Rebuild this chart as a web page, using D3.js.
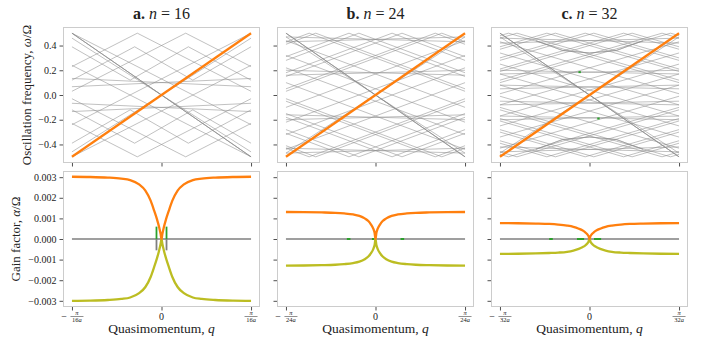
<!DOCTYPE html>
<html>
<head>
<meta charset="utf-8">
<script src="https://cdn.jsdelivr.net/npm/d3@7"></script>
<style>
body { margin: 0; background: #fff; }
text { font-family: "Liberation Serif", "DejaVu Serif", serif; fill: #222; }
</style>
</head>
<body>
<svg width="710" height="338"></svg>
<script>
// panels
var letters = ["a", "b", "c"];
var sizes = [16, 24, 32];

// tick values (q in units of pi/(n a))
var qTicks = [-1, 0, 1];
var freqTicks = [-0.4, -0.2, 0, 0.2, 0.4];
var gainTicks = [-0.003, -0.002, -0.001, 0, 0.001, 0.002, 0.003];

// gain curves, sampled at gainQ (values in 1e-3 Omega)
var gainQ = [-1, -0.8, -0.6, -0.45, -0.35, -0.25, -0.18, -0.12, -0.08, -0.05, -0.025, -0.01, 0,
	0.01, 0.025, 0.05, 0.08, 0.12, 0.18, 0.25, 0.35, 0.45, 0.6, 0.8, 1];
var upA = [3.02, 3.01, 2.98, 2.93, 2.86, 2.65, 2.35, 1.85, 1.35, 0.95, 0.55, 0.25, 0,
	0.25, 0.55, 0.95, 1.35, 1.85, 2.35, 2.65, 2.86, 2.93, 2.98, 3.01, 3.02];
var lowA = [-3.0, -2.99, -2.96, -2.91, -2.84, -2.63, -2.33, -1.83, -1.33, -0.93, -0.53, -0.24, 0,
	-0.24, -0.53, -0.93, -1.33, -1.83, -2.33, -2.63, -2.84, -2.91, -2.96, -2.99, -3.0];
var upB = [1.31, 1.305, 1.29, 1.27, 1.24, 1.19, 1.12, 1.0, 0.87, 0.7, 0.5, 0.3, 0,
	0.3, 0.5, 0.7, 0.87, 1.0, 1.12, 1.19, 1.24, 1.27, 1.29, 1.305, 1.31];
var lowB = [-1.29, -1.285, -1.27, -1.25, -1.22, -1.17, -1.1, -0.98, -0.85, -0.69, -0.49, -0.29, 0,
	-0.29, -0.49, -0.69, -0.85, -0.98, -1.1, -1.17, -1.22, -1.25, -1.27, -1.285, -1.29];
var upC = [0.77, 0.765, 0.75, 0.73, 0.7, 0.65, 0.59, 0.5, 0.42, 0.33, 0.23, 0.13, 0,
	0.13, 0.23, 0.33, 0.42, 0.5, 0.59, 0.65, 0.7, 0.73, 0.75, 0.765, 0.77];
var lowC = [-0.72, -0.715, -0.7, -0.68, -0.66, -0.62, -0.56, -0.48, -0.4, -0.32, -0.22, -0.12, 0,
	-0.12, -0.22, -0.32, -0.4, -0.48, -0.56, -0.62, -0.66, -0.68, -0.7, -0.715, -0.72];

// spikes near q=0 (panel a): q, top (green), bottom (gray), in 1e-3
var spikeQ = [-0.056, 0.056];
var spikeTop = [0.6, 0.6];
var spikeBot = [-0.55, -0.55];

// short green pieces on the zero line: [q0, q1]
var greenDashB = [[-0.32, -0.28], [-0.04, -0.01], [0.28, 0.32]];
var greenDashC = [[-0.45, -0.41], [-0.14, -0.06], [0.05, 0.13]];

// green points in the frequency panel c
var greenDotC = [[-0.11, 0.185], [0.1, -0.19]];

// orange band (the driven one)
var orangeBand = [[-1, -0.5], [1, 0.5]];

// gray bands, each a list of [q, omega] vertices (one direction; mirrored copies added below)
var grayA = [
	[[-1, 0.23], [-0.27, 0.5], [1, 0.03]],
	[[-1, -0.24], [1, 0.5]],
	[[-1, -0.5], [1, 0.24]],
	[[-1, -0.03], [0.27, -0.5], [1, -0.23]],
	[[-1, 0.134], [1, 0.067]],
	[[-1, -0.067], [1, -0.134]],
	[[-1, 0.46], [1, -0.46]],
	[[-1, 0.39], [-0.35, 0.12], [0.3, 0.39], [1, 0.12]],
	[[-1, -0.39], [-0.35, -0.12], [0.3, -0.39], [1, -0.12]]
];
var grayB = [
	[[-1, -0.22], [1, 0.32]],
	[[-1, -0.10], [1, 0.44]],
	[[-1, 0.03], [0.741, 0.5], [1, 0.43]],
	[[-1, 0.15], [0.296, 0.5], [1, 0.31]],
	[[-1, 0.28], [-0.185, 0.5], [1, 0.18]],
	[[-1, 0.41], [-0.667, 0.5], [1, 0.05]],
	[[-1, -0.32], [1, 0.22]],
	[[-1, -0.44], [1, 0.10]],
	[[-1, -0.43], [-0.741, -0.5], [1, -0.03]],
	[[-1, -0.31], [-0.296, -0.5], [1, -0.15]],
	[[-1, -0.18], [0.185, -0.5], [1, -0.28]],
	[[-1, -0.05], [0.667, -0.5], [1, -0.41]],
	[[-1, 0.47], [1, 0.43]],
	[[-1, 0.2], [1, 0.16]],
	[[-1, -0.16], [1, -0.2]],
	[[-1, -0.43], [1, -0.47]],
	[[-1, 0.47], [1, -0.47]]
];
var grayC = [
	[[-1, -0.17], [1, 0.25]],
	[[-1, -0.08], [1, 0.34]],
	[[-1, 0.01], [1, 0.43]],
	[[-1, 0.10], [0.905, 0.5], [1, 0.48]],
	[[-1, 0.19], [0.476, 0.5], [1, 0.39]],
	[[-1, 0.28], [0.048, 0.5], [1, 0.30]],
	[[-1, 0.37], [-0.381, 0.5], [1, 0.21]],
	[[-1, 0.46], [-0.81, 0.5], [1, 0.12]],
	[[-1, -0.25], [1, 0.17]],
	[[-1, -0.34], [1, 0.08]],
	[[-1, -0.43], [1, -0.01]],
	[[-1, -0.48], [-0.905, -0.5], [1, -0.10]],
	[[-1, -0.39], [-0.476, -0.5], [1, -0.19]],
	[[-1, -0.30], [-0.048, -0.5], [1, -0.28]],
	[[-1, -0.21], [0.381, -0.5], [1, -0.37]],
	[[-1, -0.12], [0.81, -0.5], [1, -0.46]],
	[[-1, 0.46], [1, 0.42]],
	[[-1, 0.2], [1, 0.17]],
	[[-1, 0.08], [1, 0.05]],
	[[-1, -0.05], [1, -0.08]],
	[[-1, -0.17], [1, -0.2]],
	[[-1, -0.42], [1, -0.46]],
	[[-0.6, 0.44], [-0.3, 0.36], [0, 0.34], [0.3, 0.36], [0.6, 0.44]],
	[[-0.6, -0.44], [-0.3, -0.36], [0, -0.34], [0.3, -0.36], [0.6, -0.44]],
	[[-1, 0.47], [1, -0.47]]
];

// the darker anti-diagonal (several overlapping bands)
var antiDiag = [[-1, 0.5], [1, -0.5]];

var gains = [[upA, lowA], [upB, lowB], [upC, lowC]];
var grays = [grayA, grayB, grayC].map(function(set) {
	var all = [];
	set.forEach(function(b) {
		all.push(b);
		all.push(b.map(function(p) { return [-p[0], p[1]]; }));
	});
	all.push(antiDiag, antiDiag, antiDiag);
	return all;
});

var svg = d3.select("svg");
var panelW = 197, lefts = [63, 277, 491];
var topY = [27, 163], botY = [171, 307];

var fmt1 = d3.format(".1f"), fmt3 = d3.format(".3f");

lefts.forEach(function(left, i) {
	var x = d3.scaleLinear().domain([-1.1, 1.1]).range([left, left + panelW]);
	var yF = d3.scaleLinear().domain([-0.55, 0.55]).range([topY[1], topY[0]]);
	var yG = d3.scaleLinear().domain([-0.0033, 0.0033]).range([botY[1], botY[0]]);

	svg.append("clipPath").attr("id", "ct" + i).append("rect")
		.attr("x", left).attr("y", topY[0]).attr("width", panelW).attr("height", topY[1] - topY[0]);
	svg.append("clipPath").attr("id", "cb" + i).append("rect")
		.attr("x", left).attr("y", botY[0]).attr("width", panelW).attr("height", botY[1] - botY[0]);

	// top: frequencies
	var gt = svg.append("g").attr("clip-path", "url(#ct" + i + ")");
	var line = d3.line().x(function(d) { return x(d[0]); }).y(function(d) { return yF(d[1]); });
	gt.selectAll(".band").data(grays[i]).enter().append("path")
		.attr("d", line).attr("fill", "none")
		.attr("stroke", "#8c8c8c").attr("stroke-opacity", 0.6).attr("stroke-width", 0.9);
	gt.append("path").datum(orangeBand).attr("d", line).attr("fill", "none")
		.attr("stroke", "#ff7f0e").attr("stroke-width", 2.3);
	if (i == 2) {
		gt.selectAll(".dot").data(greenDotC).enter().append("rect")
			.attr("x", function(d) { return x(d[0]) - 1.2; })
			.attr("y", function(d) { return yF(d[1]) - 1; })
			.attr("width", 2.4).attr("height", 2).attr("fill", "#2ca02c");
	}

	// bottom: gain
	var gb = svg.append("g").attr("clip-path", "url(#cb" + i + ")");
	gb.append("line").attr("x1", x(-1)).attr("x2", x(1)).attr("y1", yG(0)).attr("y2", yG(0))
		.attr("stroke", "#7f7f7f").attr("stroke-width", 1.5);
	if (i == 0) {
		spikeQ.forEach(function(q, k) {
			gb.append("line").attr("x1", x(q)).attr("x2", x(q)).attr("y1", yG(0)).attr("y2", yG(spikeBot[k] / 1000))
				.attr("stroke", "#7f7f7f").attr("stroke-width", 1.8);
			gb.append("line").attr("x1", x(q)).attr("x2", x(q)).attr("y1", yG(0)).attr("y2", yG(spikeTop[k] / 1000))
				.attr("stroke", "#2ca02c").attr("stroke-width", 1.8);
		});
	}
	var dashes = i == 1 ? greenDashB : i == 2 ? greenDashC : [];
	dashes.forEach(function(d) {
		gb.append("line").attr("x1", x(d[0])).attr("x2", x(d[1])).attr("y1", yG(0)).attr("y2", yG(0))
			.attr("stroke", "#2ca02c").attr("stroke-width", 2);
	});
	var gline = d3.line().curve(d3.curveMonotoneX)
		.x(function(d, k) { return x(gainQ[k]); }).y(function(d) { return yG(d / 1000); });
	gb.append("path").datum(gains[i][1]).attr("d", gline).attr("fill", "none")
		.attr("stroke", "#bcbd22").attr("stroke-width", 2.3);
	gb.append("path").datum(gains[i][0]).attr("d", gline).attr("fill", "none")
		.attr("stroke", "#ff7f0e").attr("stroke-width", 2.3);

	// frames
	[topY, botY].forEach(function(yy) {
		svg.append("rect").attr("x", left + 0.5).attr("y", yy[0] + 0.5)
			.attr("width", panelW - 1).attr("height", yy[1] - yy[0] - 1)
			.attr("fill", "none").attr("stroke", "#cccccc").attr("stroke-width", 1);
	});

	// axes
	var axT = svg.append("g").attr("transform", "translate(" + left + ",0)")
		.call(d3.axisLeft(yF).tickValues(freqTicks).tickSize(3.5).tickPadding(3)
			.tickFormat(i == 0 ? fmt1 : ""));
	var axB = svg.append("g").attr("transform", "translate(" + left + ",0)")
		.call(d3.axisLeft(yG).tickValues(gainTicks).tickSize(3.5).tickPadding(3)
			.tickFormat(i == 0 ? fmt3 : ""));
	var axXT = svg.append("g").attr("transform", "translate(0," + topY[1] + ")")
		.call(d3.axisBottom(x).tickValues(qTicks).tickSize(3.5).tickFormat(""));
	var axXB = svg.append("g").attr("transform", "translate(0," + botY[1] + ")")
		.call(d3.axisBottom(x).tickValues(qTicks).tickSize(3.5).tickFormat(""));
	[axT, axB, axXT, axXB].forEach(function(a) {
		a.select(".domain").remove();
		a.selectAll("line").attr("stroke", "#222").attr("stroke-width", 0.8);
		a.selectAll("text").attr("font-size", 10).attr("font-family", "Liberation Serif").attr("fill", "#222");
	});

	// q tick labels as fractions
	qTicks.forEach(function(q) {
		var g = svg.append("g").attr("transform", "translate(" + x(q) + ",316.5)");
		if (q == 0) {
			g.append("text").attr("y", 3.5).attr("text-anchor", "middle").attr("font-size", 10).text("0");
			return;
		}
		var fx = q < 0 ? 5 : 0;
		if (q < 0) g.append("text").attr("x", -8).attr("y", 3.5).attr("text-anchor", "middle").attr("font-size", 10).text("\u2212");
		g.append("text").attr("x", fx).attr("y", -1.2).attr("text-anchor", "middle").attr("font-size", 6.5)
			.attr("font-style", "italic").text("\u03c0");
		g.append("line").attr("x1", fx - 6.5).attr("x2", fx + 6.5).attr("y1", 0).attr("y2", 0)
			.attr("stroke", "#222").attr("stroke-width", 0.5);
		var den = g.append("text").attr("x", fx).attr("y", 5.5).attr("text-anchor", "middle").attr("font-size", 6.5);
		den.append("tspan").text(sizes[i]);
		den.append("tspan").attr("font-style", "italic").text("a");
	});

	// title
	var t = svg.append("text").attr("x", left + panelW / 2).attr("y", 19)
		.attr("text-anchor", "middle").attr("font-size", 16);
	t.append("tspan").attr("font-weight", "bold").text(letters[i] + ".");
	t.append("tspan").attr("font-style", "italic").text(" n");
	t.append("tspan").text(" = " + sizes[i]);

	// x label
	var xl = svg.append("text").attr("x", left + panelW / 2).attr("y", 333)
		.attr("text-anchor", "middle").attr("font-size", 13.5);
	xl.append("tspan").text("Quasimomentum, ");
	xl.append("tspan").attr("font-style", "italic").text("q");
});

// y labels
var yl1 = svg.append("text").attr("transform", "translate(31,95) rotate(-90)")
	.attr("text-anchor", "middle").attr("font-size", 13);
yl1.append("tspan").text("Oscillation frequency, ");
yl1.append("tspan").attr("font-style", "italic").text("\u03c9");
yl1.append("tspan").text("/\u03a9");
var yl2 = svg.append("text").attr("transform", "translate(20,239) rotate(-90)")
	.attr("text-anchor", "middle").attr("font-size", 13);
yl2.append("tspan").text("Gain factor, ");
yl2.append("tspan").attr("font-style", "italic").text("\u03b1");
yl2.append("tspan").text("/\u03a9");
</script>
</body>
</html>
